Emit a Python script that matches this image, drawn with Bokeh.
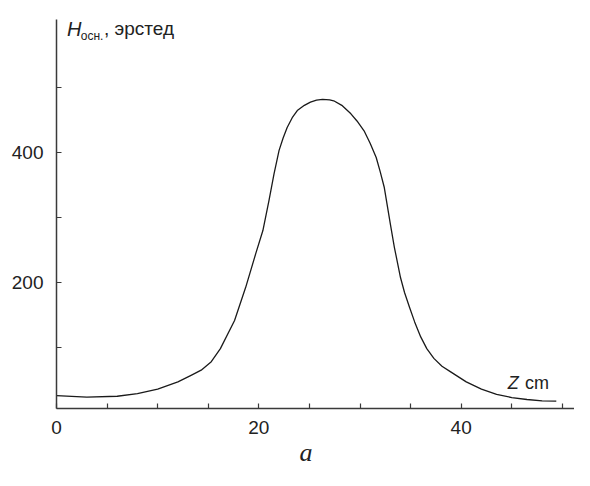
from bokeh.plotting import figure
from bokeh.models import Range1d, FixedTicker, Label, Title
from bokeh.embed import file_html
from bokeh.resources import INLINE

# Data (Z in cm, H in oersted)
z_cm = [0, 3, 6, 8, 10, 12, 13.3, 14.3, 15.3, 16.2, 17.6, 18.7, 19.7, 20.4, 21.0,
        21.5, 22.0, 22.4, 22.8, 23.3, 23.8, 24.5, 25.1, 25.7, 26.3, 27.0, 27.4,
        28.2, 29.1, 29.7, 30.4, 31.0, 31.6, 32.0, 32.4, 32.7, 33.0, 33.4, 34.0,
        34.4, 34.9, 35.4, 36.0, 36.6, 37.3, 38.1, 39.0, 40.5, 42.0, 43.5, 45.0,
        46.5, 48.0, 49.4]
h_oe = [27, 24.5, 26, 30, 37, 48, 58, 66, 79, 99, 142, 193, 245, 280, 326,
        367, 403, 422, 438, 453, 464, 472, 477, 480, 481, 480.5, 479,
        472, 459, 448, 433, 414, 392, 370, 346, 318, 290, 254, 208,
        185, 162, 140, 117, 99, 84, 72, 63, 48, 37, 29, 24,
        21, 19, 18.5]

x_major = [0, 20, 40]
x_minor = [5, 10, 15, 25, 30, 35, 45, 50]
y_major = [200, 400]
y_minor = [100, 300, 500]

p = figure(width=574, height=470, output_backend="svg", toolbar_location=None,
           x_range=Range1d(0, 51.2), y_range=Range1d(7.2, 603.6),
           min_border_left=56, min_border_right=0, min_border_top=19,
           min_border_bottom=62)
p.outline_line_color = None
p.grid.visible = False
p.background_fill_color = "white"
p.border_fill_color = "white"

p.line(z_cm, h_oe, line_color="#1a1a1a", line_width=1.3, line_join="round")

p.xaxis.ticker = FixedTicker(ticks=x_major, minor_ticks=x_minor)
p.yaxis.ticker = FixedTicker(ticks=y_major, minor_ticks=y_minor)

for ax in (p.xaxis[0], p.yaxis[0]):
    ax.axis_line_color = "#3a3a3a"
    ax.axis_line_width = 1.5
    ax.major_tick_in = 5
    ax.major_tick_out = 0
    ax.minor_tick_in = 5
    ax.minor_tick_out = 0
    ax.major_tick_line_color = "#3a3a3a"
    ax.minor_tick_line_color = "#3a3a3a"
    ax.major_tick_line_width = 1.2
    ax.minor_tick_line_width = 1.2
    ax.major_label_text_font = "Liberation Sans"
    ax.major_label_text_font_size = "19px"
    ax.major_label_text_color = "#222222"

p.xaxis.major_label_standoff = 12
p.yaxis.major_label_standoff = 13

txt = dict(text_font="Liberation Sans", text_color="#222222", text_baseline="alphabetic")
p.add_layout(Label(x=1.05, y=589.3, text="H", text_font_size="20px",
                   text_font_style="italic", **txt))
p.add_layout(Label(x=2.4, y=579, text="осн.", text_font_size="12px", **txt))
p.add_layout(Label(x=4.7, y=589.3, text=", эрстед", text_font_size="19px", **txt))
p.add_layout(Label(x=44.6, y=46, text="Z", text_font_size="18px",
                   text_font_style="italic", **txt))
p.add_layout(Label(x=46.3, y=46, text="cm", text_font_size="18px", **txt))

p.add_layout(Title(text="a", text_font="Liberation Serif", text_font_style="italic",
                   text_font_size="26px", text_color="#222222", align="left",
                   offset=243, standoff=-2), "below")

open("out.html", "w").write(file_html(p, INLINE))
